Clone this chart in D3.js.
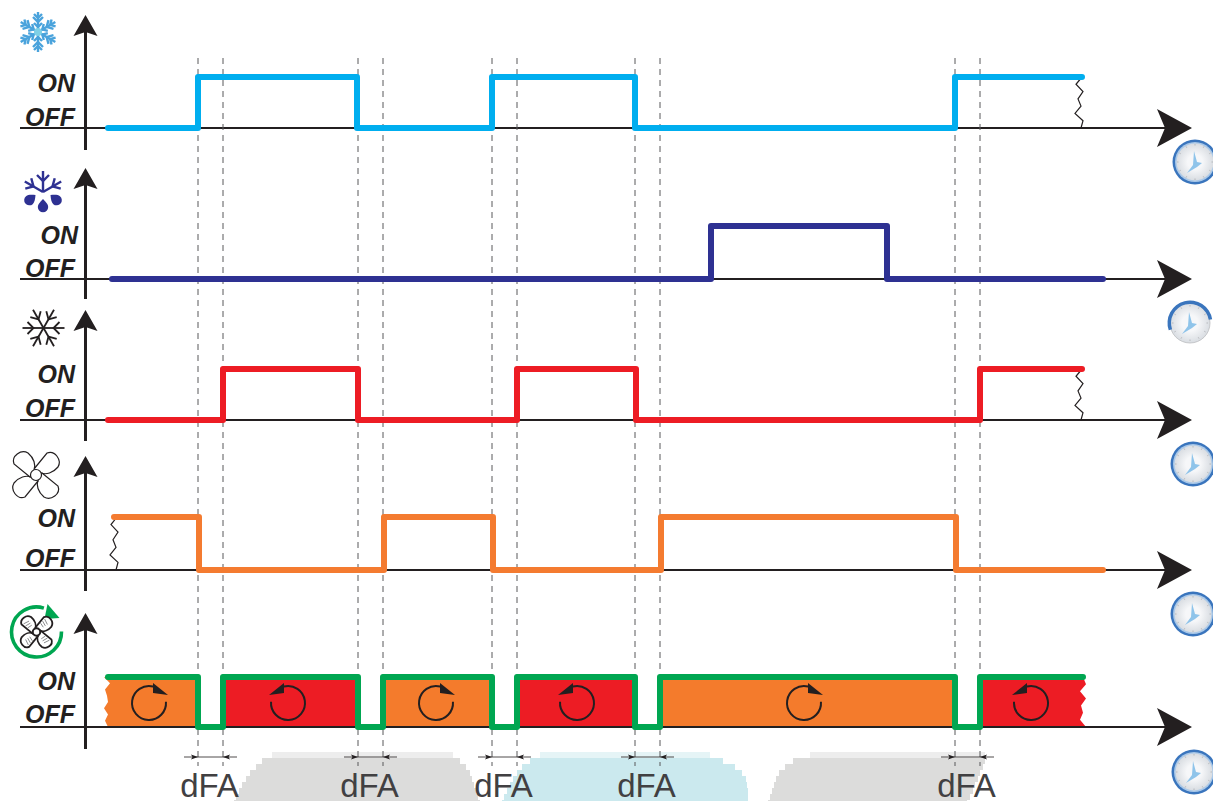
<!DOCTYPE html>
<html>
<head>
<meta charset="utf-8">
<script src="https://d3js.org/d3.v7.min.js"></script>
<style>
html, body { margin: 0; padding: 0; background: #fff; }
svg { display: block; }
.state { font: italic bold 25px "Liberation Sans", Arial, sans-serif; fill: #231f20; text-anchor: end; }
.dfa { font: 33px "Liberation Sans", Arial, sans-serif; fill: #414042; text-anchor: middle; }
</style>
</head>
<body>
<script>
var width = 1213, height = 801;

// time positions of the switching edges
var compressorEdges = [198, 357, 492, 635, 955];
var defrostEdges = [711, 887];
var evapEdges = [223, 358, 517, 636, 980];
var fanEdges = [199, 384, 493, 661, 956];
var dfaStarts = [198, 358, 492, 635, 955];
var dfaLength = 25;

// each series: start state (0/1), start, end
var seriesNames = ["compressor", "defrost", "evap", "fan", "fanSpeed"];
var seriesColors = ["#00aeef", "#2e3192", "#ed1c24", "#f47b30", "#00a651"];
var seriesEdges = [compressorEdges, defrostEdges, evapEdges, fanEdges,
	[198, 223, 358, 383, 492, 517, 635, 660, 955, 980]];
var seriesFirst = [0, 0, 0, 1, 1];
var seriesStart = [108, 112, 108, 114, 108];
var seriesEnd = [1082, 1103, 1082, 1103, 1083];

var rowOff = [128, 279, 420, 570, 727];
var rowOn = [77, 226, 369, 517, 677];
var rowTop = [15, 168, 310, 456, 613];
var rowBottom = [150, 299, 441, 591, 749];

var onLabelY = [92, 244, 383, 527, 690];
var offLabelY = [126, 277, 417, 567, 723];
var onLabelX = [75, 78, 75, 75, 75];

// bands of the bottom row: start, end, kind
var bandStart = [108, 223, 383, 517, 660, 980];
var bandEnd = [198, 358, 492, 635, 955, 1083];
var bandKind = ["orange", "red", "orange", "red", "orange", "red"];
var bandColors = { orange: "#f47b2c", red: "#ed1c24" };

var clockX = [1195, 1190, 1193, 1193, 1194];
var clockY = [162, 323, 464, 614, 772];

var x = d3.scaleLinear().domain([0, width]).range([0, width]);
var svg = d3.select("body").append("svg").attr("width", width).attr("height", height);

var defs = svg.append("defs");
var face = defs.append("radialGradient").attr("id", "face");
face.append("stop").attr("offset", "0.4").attr("stop-color", "#f6f7f9");
face.append("stop").attr("offset", "1").attr("stop-color", "#d9dde2");

// blocky blobs behind the dFA labels: left and right edge per 6px row
var blobTop = 752;
var blobs = [
	{ c: "#dcdcdb", l: [272, 262, 256, 250, 246, 242, 239, 236, 234], r: [453, 460, 466, 470, 472, 474, 476, 478, 480] },
	{ c: "#cbe9ee", l: [540, 530, 522, 517, 513, 510, 507, 504, 502], r: [710, 723, 735, 742, 746, 747, 748, 748, 748] },
	{ c: "#dcdcdb", l: [810, 793, 785, 779, 776, 774, 772, 770, 768], r: [985, 985, 983, 980, 978, 975, 973, 970, 967] }
];
blobs.forEach(function(b){
	b.l.forEach(function(l, k){
		svg.append("rect").attr("x", l).attr("y", blobTop + k * 6)
			.attr("width", b.r[k] - l).attr("height", 6)
			.attr("fill", b.c).attr("opacity", k == 0 ? 0.5 : 1);
	});
});

// bands with a torn edge at the two ends
var tornLeft = [0, -3, 0, -4, 0, -1, -3, 2, -4];
var tornRight = [0, 3, -3, 3, -2, 0, -3, 3];
function bandPath(d, i) {
	var x0 = x(d.s), x1 = x(d.e), y0 = rowOn[4], y1 = rowOff[4];
	var s = "M" + x0 + " " + y0 + " L" + x1 + " " + y0;
	if (i == bandStart.length - 1) {
		tornRight.forEach(function(o, k){
			s += " L" + (x1 + o) + " " + (y0 + (y1 - y0) * k / (tornRight.length - 1));
		});
	} else {
		s += " L" + x1 + " " + y1;
	}
	s += " L" + x0 + " " + y1;
	if (i == 0) {
		tornLeft.forEach(function(o, k){
			s += " L" + (x0 + o) + " " + (y1 - (y1 - y0) * k / (tornLeft.length - 1));
		});
	}
	return s + " Z";
}
var bandData = bandStart.map(function(s, i){ return { s: s, e: bandEnd[i], k: bandKind[i] }; });
svg.selectAll(".band").data(bandData).enter().append("path")
	.attr("class", "band").attr("d", bandPath)
	.attr("fill", function(d){ return bandColors[d.k]; });

// axes
function arrowUp(g, xp, tip) {
	g.append("path").attr("fill", "#231f20")
		.attr("d", "M" + xp + " " + tip + " L" + (xp + 12) + " " + (tip + 21) + " L" + xp + " " + (tip + 17)
			+ " L" + (xp - 12) + " " + (tip + 21) + " Z");
}
function arrowRight(g, xp, yp) {
	g.append("path").attr("fill", "#231f20")
		.attr("d", "M" + xp + " " + yp + " L" + (xp - 35) + " " + (yp + 19) + " L" + (xp - 27) + " " + yp
			+ " L" + (xp - 35) + " " + (yp - 19) + " Z");
}
var axes = svg.append("g");
rowOff.forEach(function(yy, i){
	axes.append("line").attr("x1", x(20)).attr("x2", x(1175)).attr("y1", yy).attr("y2", yy)
		.attr("stroke", "#231f20").attr("stroke-width", 2);
	axes.append("line").attr("x1", x(85.5)).attr("x2", x(85.5)).attr("y1", rowTop[i] + 10).attr("y2", rowBottom[i])
		.attr("stroke", "#231f20").attr("stroke-width", 3);
	arrowUp(axes, x(85.5), rowTop[i]);
	arrowRight(axes, x(1192), yy);
	axes.append("text").attr("class", "state").attr("x", onLabelX[i]).attr("y", onLabelY[i]).text("ON");
	axes.append("text").attr("class", "state").attr("x", 75).attr("y", offLabelY[i]).text("OFF");
});

// break marks
var breakX = [1079, 1079, 114];
var breakRow = [0, 2, 3];
var wiggle = [3, -3, 4, -1, 2, -4, 4, 2];
var wiggleLine = d3.line().x(function(d){ return d[0]; }).y(function(d){ return d[1]; });
breakX.forEach(function(bx, i){
	var r = breakRow[i];
	var pts = wiggle.map(function(o, k){
		return [x(bx) + o, rowOn[r] + (rowOff[r] - rowOn[r]) * k / (wiggle.length - 1)];
	});
	svg.append("path").attr("d", wiggleLine(pts)).attr("fill", "none").attr("stroke", "#231f20").attr("stroke-width", 1.2);
});

// dashed guide lines
var guides = [];
dfaStarts.forEach(function(s){ guides.push(s, s + dfaLength); });
svg.selectAll(".guide").data(guides).enter().append("line")
	.attr("class", "guide")
	.attr("x1", function(d){ return x(d); }).attr("x2", function(d){ return x(d); })
	.attr("y1", 58).attr("y2", 766)
	.attr("stroke", "#58595b").attr("stroke-width", 1).attr("stroke-dasharray", "6 5");

// step traces
function tracePoints(i) {
	var state = seriesFirst[i];
	var yOf = function(s){ return s ? rowOn[i] : rowOff[i]; };
	var pts = [[x(seriesStart[i]), yOf(state)]];
	seriesEdges[i].forEach(function(e){
		pts.push([x(e), yOf(state)]);
		state = 1 - state;
		pts.push([x(e), yOf(state)]);
	});
	pts.push([x(seriesEnd[i]), yOf(state)]);
	return pts;
}
seriesNames.forEach(function(name, i){
	svg.append("path").attr("class", "trace " + name).attr("d", wiggleLine(tracePoints(i)))
		.attr("fill", "none").attr("stroke", seriesColors[i]).attr("stroke-width", 6)
		.attr("stroke-linejoin", "round").attr("stroke-linecap", "round");
});

// rotation marks in the bands
function rotation(cx, cy, clockwise) {
	var g = svg.append("g").attr("transform", "translate(" + cx + "," + cy + ")" + (clockwise ? "" : " scale(-1,1)"));
	g.append("path").attr("d", d3.arc()({ innerRadius: 17, outerRadius: 17, startAngle: 1.5, endAngle: 2 * Math.PI + 0.25 }))
		.attr("fill", "none").attr("stroke", "#231f20").attr("stroke-width", 2);
	g.append("path").attr("d", "M4 -20 L19 -8 L4 -10 Z").attr("fill", "#231f20");
}
var rotX = [149, 288, 436, 577, 804, 1031];
bandKind.forEach(function(k, i){ rotation(rotX[i], 703, k == "orange"); });

// dFA dimensions
var dims = svg.selectAll(".dim").data(dfaStarts).enter().append("g").attr("class", "dim");
dims.append("line")
	.attr("x1", function(d){ return x(d) - 14; }).attr("x2", function(d){ return x(d) + dfaLength + 14; })
	.attr("y1", 757).attr("y2", 757).attr("stroke", "#231f20").attr("stroke-width", 0.8);
dims.append("path").attr("fill", "#231f20")
	.attr("d", function(d){ var a = x(d), b = x(d) + dfaLength;
		return "M" + a + " 757 l-7 -2.5 l1.5 2.5 l-1.5 2.5 Z M" + b + " 757 l7 -2.5 l-1.5 2.5 l1.5 2.5 Z"; });
dims.append("text").attr("class", "dfa")
	.attr("x", function(d){ return x(d) + dfaLength / 2 - 1; }).attr("y", 797).text("dFA");

// snowflake arms
function flake(g, r, color, w, barbs) {
	d3.range(6).forEach(function(k){
		var a = g.append("g").attr("transform", "rotate(" + k * 60 + ")");
		a.append("line").attr("x1", 0).attr("y1", 0).attr("x2", 0).attr("y2", -r)
			.attr("stroke", color).attr("stroke-width", w);
		barbs.forEach(function(b){
			a.append("path").attr("d", "M" + (-b[1]) + " " + (-b[0] - b[1]) + " L0 " + (-b[0]) + " L" + b[1] + " " + (-b[0] - b[1]))
				.attr("fill", "none").attr("stroke", color).attr("stroke-width", w);
		});
	});
}
var icon1 = svg.append("g").attr("transform", "translate(38,32)");
flake(icon1, 20, "#4aa3dc", 2.4, [[5, 4], [10, 5], [14, 4]]);
icon1.append("circle").attr("r", 4).attr("fill", "#7fd0e6");

// snowflake with drops
var icon2 = svg.append("g").attr("transform", "translate(43,192)");
[-60, 0, 60].forEach(function(deg){
	var a = icon2.append("g").attr("transform", "rotate(" + deg + ")");
	a.append("line").attr("y2", -21).attr("stroke", "#2e3192").attr("stroke-width", 2.4);
	a.append("path").attr("d", "M-6 -17 L0 -11 L6 -17").attr("fill", "none").attr("stroke", "#2e3192").attr("stroke-width", 2.4);
});
var dropData = [[-7.5, 3, 50], [0, 7, 0], [7.5, 3, -50]];
icon2.selectAll(".drop").data(dropData).enter().append("path").attr("class", "drop")
	.attr("transform", function(d){ return "translate(" + d[0] + "," + d[1] + ") rotate(" + d[2] + ")"; })
	.attr("d", "M0 0 C3 3 5.2 5.5 5.2 8 A5.2 5.2 0 0 1 -5.2 8 C-5.2 5.5 -3 3 0 0 Z")
	.attr("fill", "#2e3192");

// black outline snowflake
var icon3 = svg.append("g").attr("transform", "translate(43.5,328) rotate(90)");
flake(icon3, 21, "#231f20", 1.8, [[10, 6]]);

// fan
function fanBlades(g, s, hatch) {
	[0, 90, 180, 270].forEach(function(a){
		var b = g.append("g").attr("transform", "rotate(" + a + ") scale(" + s + ")");
		b.append("path")
			.attr("d", "M-2 -6 L11 -22 C19 -25 26 -15 22 -8 C17 -2 10 0 5 -2 Z")
			.attr("fill", "#fff").attr("stroke", "#231f20").attr("stroke-width", (hatch ? 1.8 : 1.2) / s);
		if (hatch) {
			b.append("path").attr("d", "M6 -13 L10 -7 M9 -16 L13 -9 M12 -19 L16 -11")
				.attr("stroke", "#6d6e71").attr("stroke-width", 0.8 / s).attr("fill", "none");
		}
	});
	g.append("circle").attr("r", 5.5 * s).attr("fill", "#fff").attr("stroke", "#231f20").attr("stroke-width", hatch ? 2 : 1.2);
}
var icon4 = svg.append("g").attr("transform", "translate(36,475)");
fanBlades(icon4, 1, false);

// fan with green ring
var icon5 = svg.append("g").attr("transform", "translate(36.5,632)");
icon5.append("path").attr("d", d3.arc()({ innerRadius: 25, outerRadius: 25, startAngle: 1.55, endAngle: 2 * Math.PI + 0.3 }))
	.attr("fill", "none").attr("stroke", "#00a651").attr("stroke-width", 3.6);
icon5.append("path").attr("d", "M11 -28 L23 -14 L8 -13 Z").attr("fill", "#00a651");
fanBlades(icon5.append("g"), 0.68, true);

// clocks
clockX.forEach(function(cx, i){
	var g = svg.append("g").attr("transform", "translate(" + cx + "," + clockY[i] + ")");
	if (i == 1) {
		// this one only has the rim on its upper left
		g.append("circle").attr("r", 20).attr("fill", "url(#face)").attr("stroke", "#bcbec0").attr("stroke-width", 0.8);
		g.append("path").attr("d", d3.arc()({ innerRadius: 19, outerRadius: 22.5, startAngle: -1.9, endAngle: 1.4 }))
			.attr("fill", "#3a75bd");
	} else {
		g.append("circle").attr("r", 22.5).attr("fill", "#3a75bd");
		g.append("circle").attr("r", 20).attr("fill", "#a9c8e8");
		g.append("circle").attr("r", 18.5).attr("fill", "url(#face)");
	}
	d3.range(12).forEach(function(k){
		g.append("line").attr("y1", -18).attr("y2", -16.5).attr("transform", "rotate(" + k * 30 + ")")
			.attr("stroke", "#a7a9ac").attr("stroke-width", 0.7);
	});
	g.append("path").attr("d", "M-1 -11 L2 0 L7 1 L2 5 L-8 11 L-2 3 Z").attr("fill", "#8fc4ea");
});
</script>
</body>
</html>
